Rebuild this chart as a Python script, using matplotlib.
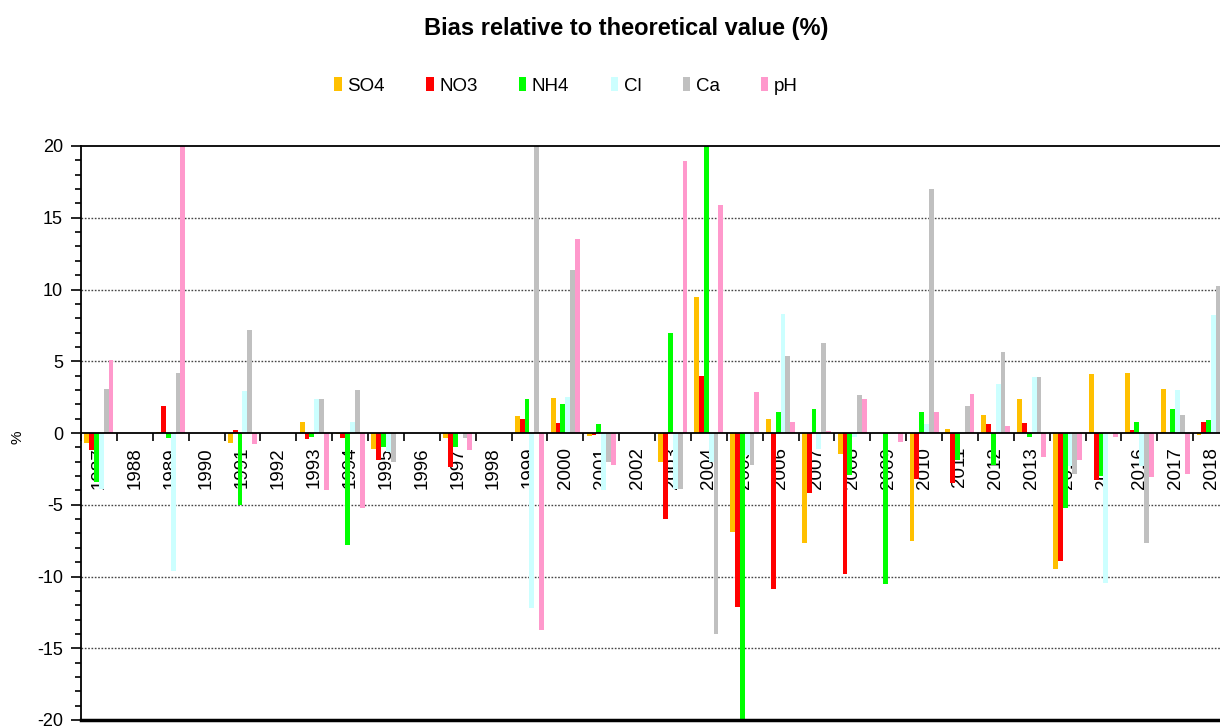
import numpy as np
import matplotlib
matplotlib.use('Agg')
import matplotlib.pyplot as plt
from matplotlib.patches import Patch
from matplotlib.ticker import MultipleLocator

plt.rcParams['font.family'] = ['Liberation Sans', 'DejaVu Sans']
plt.rcParams['axes.unicode_minus'] = False

years = [str(y) for y in range(1987, 2019)]

so4 = [-0.7, 0, 0.1, 0, -0.7, 0, 0.8, -0.1, -1.1, 0, -0.35, 0, 1.15, 2.45, -0.2, 0,
       -2.0, 9.5, -6.9, 1.0, -7.65, -1.45, 0, -7.55, 0.25, 1.25, 2.35, -9.5, 4.1, 4.2, 3.05, -0.15]
no3 = [-1.2, 0, 1.9, 0, 0.2, 0, -0.45, -0.35, -1.85, 0, -2.35, 0, 1.0, 0.7, -0.15, 0,
       -6.0, 4.0, -12.1, -10.85, -4.2, -9.8, 0, -3.2, -3.45, 0.6, 0.7, -8.95, -3.25, 0.2, 0, 0.8]
nh4 = [-3.4, 0, -0.35, 0, -5.0, 0, -0.25, -7.8, -1.0, 0, -1.0, 0, 2.35, 2.0, 0.6, 0,
       7.0, 20.0, -20.0, 1.45, 1.65, -2.9, -10.5, 1.45, -1.9, -2.25, -0.25, -5.2, -3.0, 0.8, 1.65, 0.9]
cl = [-3.9, 0, -9.6, 0, 2.9, 0, 2.35, 0.8, -1.3, 0, 0.1, 0, -12.2, 2.5, -4.0, 0,
      -3.9, -2.0, -1.5, 8.3, -1.1, -0.3, 0, 0.6, 0.1, 3.4, 3.9, -2.3, -10.45, -2.3, 3.0, 8.2]
ca = [3.1, 0, 4.2, 0, 7.15, 0, 2.35, 3.0, -2.0, 0, -0.35, 0, 20.0, 11.35, -2.0, 0,
      -3.9, -14.0, -2.2, 5.4, 6.3, 2.65, 0, 17.0, 1.9, 5.65, 3.9, -2.85, 0, -7.65, 1.25, 10.25]
ph = [5.1, 0, 20.0, 0, -0.75, 0, -4.0, -5.2, 0, 0, -1.2, 0, -13.7, 13.5, -2.25, 0,
      18.95, 15.9, 2.85, 0.8, 0.15, 2.4, -0.65, 1.45, 2.75, 0.5, -1.65, -1.85, -0.25, -3.05, -2.85, 0]

series = ['SO4', 'NO3', 'NH4', 'Cl', 'Ca', 'pH']
values = [so4, no3, nh4, cl, ca, ph]
colors = ['#FFC000', '#FF0000', '#00FF00', '#CCFFFF', '#C0C0C0', '#FF99CC']

W, H = 1220, 727
fig = plt.figure(figsize=(W / 100, H / 100), dpi=100)
# plot area runs a bit past the right edge, like the source image
ax = fig.add_axes([81 / W, (H - 720) / H, 1148 / W, 574 / H])

x = np.arange(len(years))
bw = 0.135
for i, (name, vals, c) in enumerate(zip(series, values, colors)):
    ax.bar(x + (i - 2.5) * bw, vals, width=bw, color=c, label=name, zorder=2)

ax.set_xlim(-0.5, len(years) - 0.5)
ax.set_ylim(-20, 20)

# y axis
ax.yaxis.set_major_locator(MultipleLocator(5))
ax.yaxis.set_minor_locator(MultipleLocator(1))
ax.tick_params(axis='y', which='major', length=7, width=1.2, labelsize=13, pad=6)
ax.tick_params(axis='y', which='minor', length=4, width=1.2)
for v in [-15, -10, -5, 5, 10, 15]:
    ax.axhline(v, color='#444444', ls=(0, (1.2, 1.2)), lw=1.0, zorder=1)

# category axis sitting on the zero line
ax.spines['bottom'].set_position(('data', 0))
ax.set_xticks(np.arange(-0.5, len(years), 1))
ax.set_xticklabels([])
ax.set_xticks(x, minor=True)
ax.set_xticklabels(years, minor=True, rotation=90, fontsize=13.5)
ax.tick_params(axis='x', which='major', length=6, width=1.2, direction='out')
ax.tick_params(axis='x', which='minor', length=0, pad=10)

for s in ['left', 'top', 'bottom']:
    ax.spines[s].set_linewidth(1.3)
    ax.spines[s].set_zorder(3)
ax.spines['right'].set_visible(False)
ax.axhline(-20, color='black', lw=2.5, zorder=3, clip_on=False)

fig.text(18 / W, 1 - 437 / H, '%', rotation=90, ha='center', va='center', fontsize=11)
fig.text(626 / W, 1 - 28 / H, 'Bias relative to theoretical value (%)',
         ha='center', va='center', fontsize=17, fontweight='bold')

handles = [Patch(facecolor=c, edgecolor='none') for c in colors]
fig.legend(handles, series, loc='center', bbox_to_anchor=(566 / W, 1 - 86 / H),
           ncol=6, frameon=False, fontsize=13.5, handlelength=0.4, handleheight=0.7,
           handletextpad=0.3, columnspacing=2.2)

fig.savefig('out.png', dpi=100)
